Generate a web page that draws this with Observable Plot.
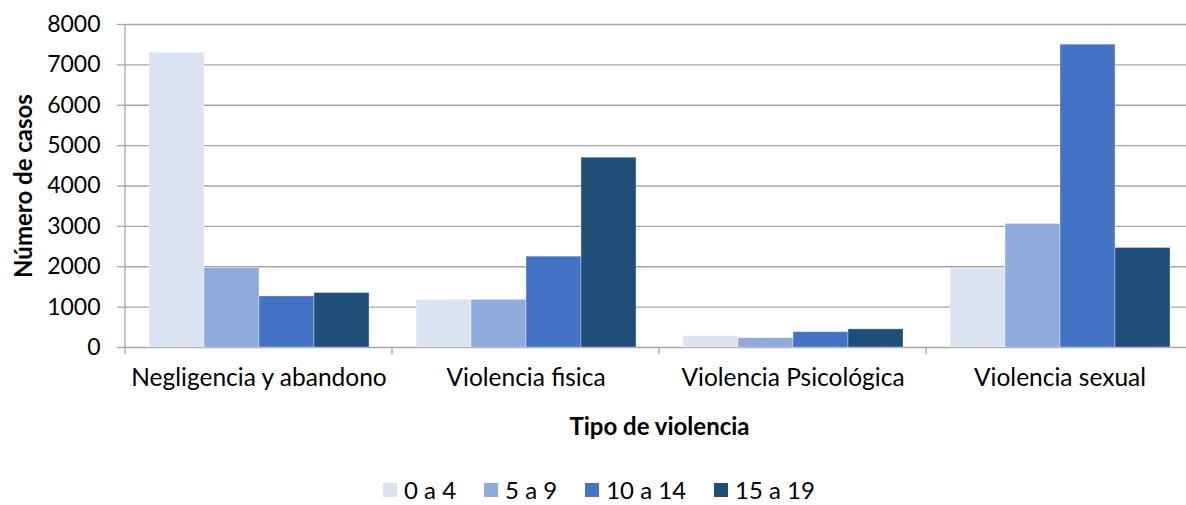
<!DOCTYPE html>
<html>
<head>
<meta charset="utf-8">
<script src="https://cdn.jsdelivr.net/npm/d3@7"></script>
<script src="https://cdn.jsdelivr.net/npm/@observablehq/plot@0.6"></script>
<style>
  html, body { margin: 0; padding: 0; background: #fff; }
  body { width: 1186px; height: 505px; overflow: hidden; font-family: Lato, "Open Sans", sans-serif; }
  g[aria-label$="axis label"] text { font-weight: 700; font-size: 24px; }
  g[aria-label="fx-axis tick label"] text { font-size: 24.5px; }
  #legend { display: flex; justify-content: center; align-items: center; gap: 28px; margin-top: 36px; margin-left: 12px; font-size: 24px; color: #000; line-height: 18px; height: 18px; }
  .item { display: flex; align-items: center; gap: 7px; }
  .sw { width: 14px; height: 14px; display: inline-block; }
</style>
</head>
<body>
<div id="chart"></div>
<div id="legend"></div>
<script>
const categories = ["Negligencia y abandono", "Violencia fisica", "Violencia Psicológica", "Violencia sexual"];
const ageGroups = ["0 a 4", "5 a 9", "10 a 14", "15 a 19"];
const age0a4 = [7300, 1180, 280, 1950];
const age5a9 = [1970, 1180, 230, 3060];
const age10a14 = [1265, 2250, 380, 7500];
const age15a19 = [1350, 4700, 450, 2465];
const colors = ["#DBE3F3", "#8FAADC", "#4472C4", "#1F4E79"];
const yTicks = [0, 1000, 2000, 3000, 4000, 5000, 6000, 7000, 8000];
const yLabel = "Número de casos";
const xLabel = "Tipo de violencia";

const series = [age0a4, age5a9, age10a14, age15a19];
const data = [];
categories.forEach((c, i) => {
  ageGroups.forEach((a, j) => data.push({category: c, age: a, value: series[j][i]}));
});

const gridColor = "#a6a6a6";
const chart = Plot.plot({
  width: 1186,
  height: 445,
  marginLeft: 123,
  marginRight: -8,
  marginTop: 24,
  marginBottom: 98,
  style: {fontFamily: "Lato, 'Open Sans', sans-serif", fontSize: "23px", color: "#000", background: "#fff"},
  fx: {domain: categories, padding: 0},
  x: {domain: ageGroups, paddingInner: 0, paddingOuter: 0.42, axis: null},
  y: {domain: [0, 8000]},
  color: {domain: ageGroups, range: colors},
  marks: [
    Plot.gridY(yTicks, {stroke: gridColor, strokeOpacity: 1, strokeWidth: 1.3}),
    Plot.barY(data, {fx: "category", x: "age", y: "value", fill: "age", stroke: "#ffffff", strokeOpacity: 0.35, strokeWidth: 1}),
    Plot.axisY(yTicks, {tickSize: 8, tickPadding: 17, stroke: gridColor, strokeWidth: 1.3, label: yLabel, labelArrow: "none", labelAnchor: "center", labelOffset: 111, tickFormat: d => String(d)}),
    Plot.axisFx({anchor: "bottom", tickSize: 0, tickPadding: 21, label: xLabel, labelArrow: "none", labelAnchor: "center", labelOffset: 87})
  ]
});
document.getElementById("chart").appendChild(chart);

// y-axis line and category boundary ticks, placed through Plot's scales
const fx = chart.scale("fx");
const y = chart.scale("y");
const svg = d3.select(chart);
const y0 = y.apply(0), yTop = y.apply(8000);
const g = svg.append("g").attr("stroke", gridColor).attr("stroke-width", 1.3);
const xLeft = fx.apply(categories[0]);
g.append("line").attr("x1", xLeft).attr("x2", xLeft).attr("y1", yTop).attr("y2", y0 + 7);
categories.forEach(c => {
  const xb = fx.apply(c) + fx.bandwidth;
  g.append("line").attr("x1", xb).attr("x2", xb).attr("y1", y0).attr("y2", y0 + 7);
});

// legend
const legend = d3.select("#legend");
ageGroups.forEach((a, i) => {
  const it = legend.append("div").attr("class", "item");
  it.append("span").attr("class", "sw").style("background", colors[i]);
  it.append("span").text(a);
});
</script>
</body>
</html>
